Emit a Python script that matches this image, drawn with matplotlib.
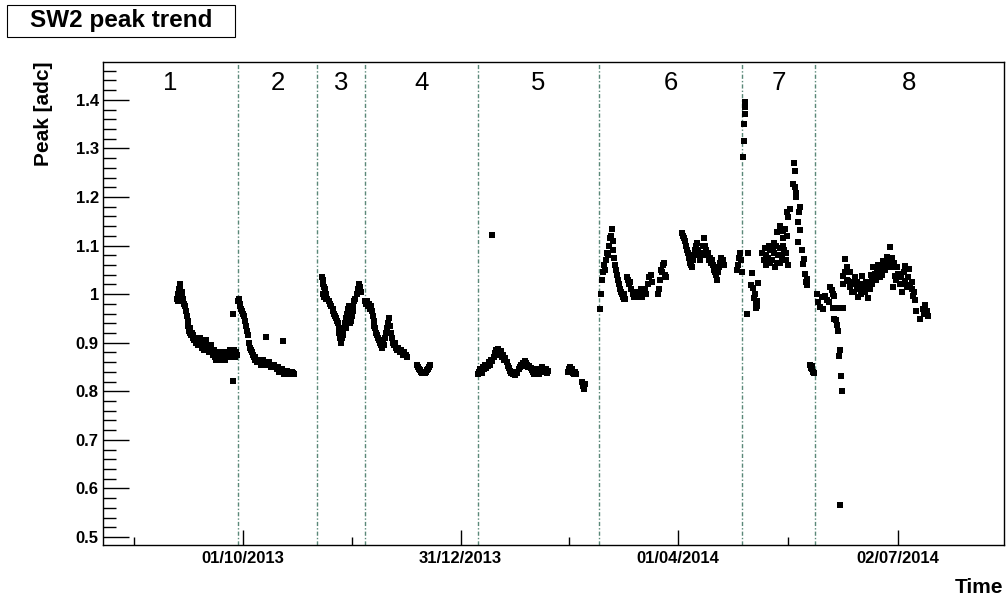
import datetime as dt
import matplotlib
matplotlib.use('Agg')
import matplotlib.pyplot as plt
import matplotlib.dates as mdates
from matplotlib.ticker import MultipleLocator, FixedLocator, FixedFormatter, FuncFormatter
from matplotlib.patches import Rectangle

plt.rcParams['font.family'] = ['Liberation Sans', 'DejaVu Sans']

# (days since 01/10/2013, peak [adc]), one list per period
seg1 = [(-27.6, 0.99), (-27.4, 1.0), (-27.2, 0.985), (-27.0, 1.005), (-26.8, 0.995), (-26.6, 1.01),
        (-26.4, 1.015), (-26.2, 1.02), (-26.0, 1.0), (-25.8, 0.99), (-25.6, 1.005), (-25.4, 0.995),
        (-25.2, 0.99), (-25.0, 0.985), (-24.6, 0.98), (-24.2, 0.975), (-23.8, 0.965), (-23.5, 0.955),
        (-23.2, 0.945), (-22.9, 0.935), (-22.6, 0.925), (-22.3, 0.92), (-22.0, 0.93), (-21.7, 0.915),
        (-21.4, 0.92), (-21.1, 0.91), (-20.8, 0.915), (-20.5, 0.905), (-20.2, 0.91), (-19.8, 0.9),
        (-19.4, 0.905), (-19.0, 0.895), (-18.6, 0.9), (-18.2, 0.91), (-17.8, 0.895), (-17.4, 0.905),
        (-17.0, 0.89), (-16.6, 0.9), (-16.2, 0.885), (-15.8, 0.895), (-15.4, 0.905), (-15.0, 0.89),
        (-14.6, 0.895), (-14.2, 0.88), (-13.8, 0.885), (-13.4, 0.895), (-13.0, 0.88), (-12.6, 0.875),
        (-12.2, 0.885), (-11.8, 0.87), (-11.4, 0.865), (-11.0, 0.875), (-10.6, 0.865), (-10.2, 0.87),
        (-9.8, 0.88), (-9.4, 0.87), (-9.0, 0.865), (-8.6, 0.875), (-8.2, 0.87), (-7.8, 0.88),
        (-7.4, 0.865), (-7.0, 0.875), (-6.6, 0.87), (-6.2, 0.88), (-5.8, 0.875), (-5.4, 0.885),
        (-5.0, 0.87), (-4.6, 0.88), (-4.2, 0.875), (-3.8, 0.885), (-3.4, 0.87), (-3.0, 0.88),
        (-2.6, 0.875), (-4.2, 0.96), (-4.2, 0.822)]
seg2 = [(-2.0, 0.985), (-1.7, 0.99), (-1.4, 0.98), (-1.1, 0.975), (-0.8, 0.97), (-0.4, 0.965),
        (0.0, 0.96), (0.4, 0.955), (0.8, 0.945), (1.2, 0.935), (1.6, 0.925), (2.0, 0.915),
        (2.4, 0.9), (2.8, 0.89), (3.2, 0.885), (3.6, 0.88), (4.0, 0.875), (4.4, 0.87),
        (4.8, 0.865), (5.2, 0.87), (5.6, 0.865), (6.0, 0.86), (6.5, 0.865), (7.0, 0.86),
        (7.5, 0.855), (8.0, 0.86), (8.5, 0.865), (9.0, 0.86), (9.5, 0.855), (10.0, 0.86),
        (10.5, 0.855), (11.0, 0.86), (11.5, 0.85), (12.0, 0.855), (12.5, 0.85), (13.0, 0.855),
        (13.5, 0.85), (14.0, 0.845), (14.5, 0.85), (15.0, 0.84), (15.5, 0.845), (16.0, 0.84),
        (16.5, 0.845), (17.0, 0.835), (17.5, 0.84), (18.0, 0.838), (18.5, 0.842), (19.0, 0.836),
        (19.5, 0.84), (20.0, 0.838), (20.5, 0.84), (21.0, 0.838), (21.5, 0.836), (9.6, 0.911),
        (16.7, 0.903)]
seg3 = [(33.0, 1.035), (33.3, 1.03), (33.6, 1.02), (34.0, 1.015), (34.4, 1.01), (34.8, 1.0),
        (33.5, 1.0), (34.0, 0.995), (34.6, 0.99), (35.2, 0.99), (35.8, 0.985), (36.4, 0.98),
        (37.0, 0.975), (37.5, 0.97), (37.8, 0.965), (38.2, 0.96), (38.6, 0.955), (39.0, 0.95),
        (39.4, 0.945), (39.8, 0.94), (40.1, 0.93), (40.3, 0.92), (40.5, 0.91), (40.8, 0.905),
        (41.1, 0.9), (41.5, 0.91), (41.8, 0.92), (42.2, 0.93), (42.6, 0.94), (43.0, 0.95),
        (43.4, 0.96), (43.8, 0.97), (44.2, 0.975), (44.6, 0.94), (45.0, 0.945), (45.4, 0.955),
        (45.8, 0.965), (46.2, 0.975), (46.6, 0.985), (47.0, 0.99), (47.6, 1.0), (48.0, 1.01),
        (48.4, 1.02), (48.8, 1.015), (49.2, 1.005), (42.0, 0.915), (43.2, 0.93), (44.0, 0.955)]
seg4 = [(51.0, 0.985), (51.4, 0.98), (51.8, 0.985), (52.2, 0.975), (52.6, 0.98), (53.0, 0.97),
        (53.4, 0.975), (53.8, 0.965), (54.2, 0.955), (54.6, 0.945), (55.0, 0.935), (55.4, 0.93),
        (55.8, 0.92), (56.2, 0.915), (56.6, 0.91), (57.0, 0.905), (57.4, 0.9), (57.8, 0.895),
        (58.2, 0.89), (58.6, 0.9), (59.0, 0.895), (59.4, 0.91), (59.8, 0.92), (60.2, 0.93),
        (60.6, 0.94), (61.0, 0.95), (61.4, 0.935), (61.8, 0.92), (62.2, 0.91), (62.6, 0.9),
        (63.0, 0.895), (63.5, 0.9), (64.0, 0.89), (64.5, 0.885), (65.0, 0.89), (65.5, 0.88),
        (66.0, 0.885), (66.5, 0.88), (67.0, 0.875), (67.5, 0.88), (68.0, 0.875), (68.5, 0.87),
        (72.8, 0.855), (73.2, 0.85), (73.6, 0.845), (74.0, 0.843), (74.5, 0.84), (75.0, 0.838),
        (75.5, 0.84), (76.0, 0.838), (76.5, 0.84), (77.0, 0.843), (77.5, 0.845), (78.0, 0.85),
        (78.3, 0.855)]
seg5 = [(104.2, 1.121),
        (98.4, 0.835), (98.8, 0.84), (99.3, 0.845), (99.8, 0.838), (100.3, 0.85), (100.8, 0.845),
        (101.3, 0.855), (101.8, 0.848), (102.3, 0.852), (102.8, 0.86), (103.3, 0.855), (103.8, 0.865),
        (104.3, 0.862), (104.8, 0.87), (105.3, 0.878), (105.8, 0.885), (106.3, 0.88), (106.8, 0.888),
        (107.3, 0.875), (107.8, 0.882), (108.3, 0.87), (108.8, 0.875), (109.3, 0.865), (109.8, 0.868),
        (110.3, 0.86), (110.8, 0.852), (111.3, 0.848), (111.8, 0.842), (112.3, 0.838), (112.8, 0.835),
        (113.3, 0.838), (113.8, 0.833), (114.3, 0.84), (114.8, 0.838), (115.3, 0.845), (115.8, 0.85),
        (116.3, 0.855), (116.8, 0.852), (117.3, 0.858), (117.8, 0.862), (118.3, 0.858), (118.8, 0.855),
        (119.3, 0.85), (119.8, 0.853), (120.3, 0.847), (120.8, 0.843), (121.3, 0.84), (121.8, 0.835),
        (122.3, 0.842), (122.8, 0.845), (123.3, 0.838), (123.8, 0.835), (124.3, 0.84), (124.8, 0.845),
        (125.3, 0.85), (125.8, 0.843), (126.3, 0.84), (126.8, 0.845), (127.3, 0.838), (127.8, 0.842),
        (135.8, 0.84), (136.2, 0.845), (136.6, 0.85), (137.0, 0.843), (137.4, 0.84), (137.8, 0.845),
        (138.2, 0.838), (138.6, 0.835), (139.0, 0.84), (139.4, 0.835), (141.9, 0.82), (142.3, 0.81),
        (142.7, 0.805), (143.0, 0.815)]
seg6 = [(149.5, 0.97), (149.8, 1.0), (150.3, 1.03), (150.8, 1.045), (151.2, 1.06), (151.6, 1.05),
        (152.0, 1.07), (152.4, 1.085), (152.8, 1.08), (153.2, 1.1), (153.6, 1.115), (154.0, 1.12),
        (154.3, 1.135), (154.6, 1.11), (155.0, 1.09), (155.3, 1.075), (155.6, 1.06), (156.0, 1.05),
        (156.4, 1.04), (156.8, 1.03), (157.2, 1.02), (157.6, 1.01), (158.0, 1.005), (158.4, 1.0),
        (158.8, 0.995), (159.2, 0.99), (159.6, 1.0), (160.0, 0.99), (160.5, 1.035), (161.0, 1.03),
        (161.5, 1.02), (162.0, 1.025), (162.5, 1.01), (163.0, 1.0), (163.5, 0.995), (164.0, 1.005),
        (164.5, 1.0), (165.0, 0.995), (165.5, 1.005), (166.0, 1.0), (166.5, 1.01), (167.0, 0.995),
        (167.5, 1.005), (168.0, 1.01), (168.5, 1.0), (169.5, 1.02), (170.0, 1.035), (170.5, 1.04),
        (171.0, 1.025), (173.8, 1.0), (174.2, 1.01), (174.6, 1.03), (175.0, 1.05), (175.4, 1.045),
        (175.8, 1.06), (176.2, 1.065), (176.6, 1.04), (177.0, 1.035), (183.8, 1.125), (184.2, 1.12),
        (184.6, 1.115), (185.0, 1.11), (185.4, 1.1), (185.8, 1.09), (186.2, 1.085), (186.6, 1.075),
        (187.0, 1.065), (187.4, 1.06), (187.8, 1.055), (188.2, 1.07), (188.6, 1.08), (189.0, 1.09),
        (189.4, 1.1), (189.8, 1.105), (190.2, 1.09), (190.6, 1.08), (191.0, 1.075), (191.4, 1.07),
        (191.8, 1.08), (192.2, 1.085), (192.6, 1.1), (193.0, 1.115), (193.4, 1.1), (193.8, 1.09),
        (194.2, 1.08), (194.6, 1.085), (195.0, 1.07), (195.4, 1.075), (195.8, 1.065), (196.2, 1.07),
        (196.6, 1.06), (197.0, 1.05), (197.4, 1.045), (197.8, 1.04), (198.2, 1.03), (198.6, 1.045),
        (199.0, 1.055), (199.4, 1.065), (199.8, 1.07), (200.2, 1.075), (200.6, 1.065), (201.0, 1.07),
        (201.4, 1.06), (206.8, 1.05), (207.2, 1.06), (207.6, 1.075), (208.0, 1.085), (208.4, 1.07),
        (208.7, 1.045)]
seg7 = [(209.4, 1.282), (209.6, 1.316), (209.8, 1.351), (209.9, 1.371), (210.2, 1.385), (209.9, 1.395),
        (210.9, 0.96), (211.3, 1.084), (212.9, 1.043), (212.6, 1.018), (213.4, 1.012), (215.5, 1.022),
        (213.8, 0.993), (214.6, 0.981), (214.6, 0.971), (214.2, 1.0), (214.9, 0.975), (215.2, 0.985),
        (217.2, 1.085), (218.4, 1.095), (219.7, 1.075), (220.5, 1.09), (221.3, 1.07), (222.2, 1.085),
        (223.0, 1.1), (223.8, 1.08), (224.7, 1.095), (225.5, 1.075), (226.4, 1.09), (227.2, 1.07),
        (228.1, 1.06), (218.8, 1.06), (220.5, 1.065), (222.6, 1.055), (224.7, 1.065), (217.8, 1.07),
        (219.0, 1.08), (220.0, 1.1), (221.8, 1.095), (223.4, 1.065), (225.0, 1.08), (226.0, 1.1),
        (227.0, 1.085), (227.8, 1.12), (225.8, 1.115), (222.0, 1.105),
        (223.3, 1.128), (224.7, 1.141), (226.8, 1.135), (227.5, 1.169), (228.1, 1.158), (228.9, 1.176),
        (226.0, 1.13), (230.7, 1.27), (231.0, 1.253), (230.3, 1.227), (231.3, 1.208), (230.8, 1.22),
        (231.5, 1.2), (233.1, 1.179), (232.6, 1.17), (232.3, 1.148), (233.1, 1.131), (232.3, 1.107),
        (234.0, 1.09), (234.9, 1.073), (234.2, 1.062), (235.1, 1.042), (235.9, 1.032), (235.4, 1.025),
        (235.9, 1.018), (237.3, 0.855), (237.7, 0.848), (238.1, 0.845), (238.5, 0.84), (238.1, 0.852),
        (238.9, 0.838)]
seg8 = [(240.0, 1.0), (240.7, 0.983), (241.4, 0.973), (242.1, 0.994), (242.8, 0.97), (243.5, 0.997),
        (244.2, 0.987), (245.3, 0.983), (245.6, 1.014), (246.3, 1.008), (247.0, 1.0), (247.4, 0.997),
        (247.0, 0.971), (249.1, 0.971), (250.9, 0.971), (247.4, 0.949), (248.1, 0.946), (248.7, 0.936),
        (248.8, 0.924), (249.8, 0.884), (249.5, 0.872), (250.2, 0.831), (250.5, 0.8), (249.8, 0.565),
        (251.9, 1.073), (252.6, 1.056), (251.2, 1.038), (251.2, 1.021), (253.3, 1.028), (254.0, 1.014),
        (254.7, 1.004), (256.1, 1.035), (256.8, 1.011), (257.5, 0.994), (258.9, 1.038), (259.6, 1.021),
        (260.3, 1.004), (261.6, 0.991), (262.3, 1.011), (263.1, 1.028), (263.7, 1.056), (264.4, 1.042),
        (265.8, 1.059), (266.5, 1.035), (267.9, 1.069), (268.6, 1.049), (269.6, 1.076), (270.7, 1.097),
        (271.0, 1.063), (272.1, 1.056), (272.8, 1.038), (272.1, 1.014), (274.2, 1.042), (274.9, 1.021),
        (275.6, 1.004), (277.0, 1.057), (277.0, 1.028), (277.7, 1.014), (278.8, 1.051), (279.1, 1.018),
        (279.8, 1.011), (280.5, 0.997), (281.2, 0.987), (281.6, 0.966), (283.3, 0.949), (284.4, 0.97),
        (285.4, 0.977), (286.1, 0.966), (286.7, 0.954), (285.0, 0.96),
        (252.0, 1.045), (252.9, 1.03), (253.8, 1.045), (254.5, 1.025), (255.3, 1.02), (255.8, 1.005),
        (257.0, 1.025), (257.9, 1.015), (258.4, 1.0), (259.2, 1.01), (260.8, 1.025), (261.2, 1.015),
        (262.8, 1.04), (263.3, 1.02), (264.9, 1.03), (265.3, 1.045), (266.0, 1.05), (267.2, 1.055),
        (267.5, 1.04), (268.2, 1.06), (269.0, 1.065), (270.0, 1.055), (270.4, 1.07), (271.5, 1.075),
        (272.5, 1.065), (273.3, 1.03), (273.8, 1.055), (275.2, 1.035), (276.2, 1.02), (276.5, 1.045),
        (278.2, 1.035), (280.0, 1.025), (280.9, 1.005)]
segments = [seg1, seg2, seg3, seg4, seg5, seg6, seg7, seg8]

# period boundaries (days since 01/10/2013) and their labels
boundaries = [-2.1, 31.1, 51.0, 98.2, 149.0, 208.9, 239.3]
period_names = ['1', '2', '3', '4', '5', '6', '7', '8']

tick_dates = [dt.datetime(2013, 10, 1), dt.datetime(2013, 12, 31),
              dt.datetime(2014, 4, 1), dt.datetime(2014, 7, 2)]
tick_labels = ['01/10/2013', '31/12/2013', '01/04/2014', '02/07/2014']

t0 = mdates.date2num(dt.datetime(2013, 10, 1))
x_min = t0 - 58.6
x_max = t0 + 318.4

fig = plt.figure(figsize=(10.08, 6.01), dpi=100)
ax = fig.add_axes([0.1022, 0.0932, 0.8938, 0.8037])

for seg in segments:
    days, peaks = zip(*seg)
    ax.plot([t0 + d for d in days], peaks, 's', color='black', ms=4.0, mew=0, zorder=3)

for b in boundaries:
    ax.axvline(t0 + b, color='#5a8878', lw=1.0, ls=(0, (3, 1.5, 1, 1.5)), zorder=2)

edges = [x_min] + [t0 + b for b in boundaries] + [x_max]
for i, name in enumerate(period_names):
    xc = 0.5 * (edges[i] + edges[i + 1])
    ax.text(xc, 0.956, name, transform=ax.get_xaxis_transform(), ha='center', va='center',
            fontsize=18.5)

ax.set_xlim(x_min, x_max)
ax.set_ylim(0.4835, 1.478)

major = [mdates.date2num(d) for d in tick_dates]
step = major[1] - major[0]
minor = [major[0] - step / 2] + [(major[i] + major[i + 1]) / 2 for i in range(len(major) - 1)]
ax.xaxis.set_major_locator(FixedLocator(major))
ax.xaxis.set_major_formatter(FixedFormatter(tick_labels))
ax.xaxis.set_minor_locator(FixedLocator(minor))
ax.yaxis.set_major_locator(MultipleLocator(0.1))
ax.yaxis.set_minor_locator(MultipleLocator(0.02))
ax.yaxis.set_major_formatter(FuncFormatter(lambda v, p: '%g' % round(v, 2)))

ax.tick_params(axis='x', which='major', direction='in', length=11, width=1, pad=4,
               labelsize=12, top=False)
ax.tick_params(axis='x', which='minor', direction='in', length=5.5, width=1, top=False)
ax.tick_params(axis='y', which='major', direction='in', length=19, width=1, pad=3,
               labelsize=12, right=False)
ax.tick_params(axis='y', which='minor', direction='in', length=9.5, width=1, right=False)
for lab in ax.get_xticklabels() + ax.get_yticklabels():
    lab.set_fontweight('bold')
for sp in ax.spines.values():
    sp.set_linewidth(1.0)

fig.text(0.043, 0.897, 'Peak [adc]', rotation=90, ha='center', va='top',
         fontsize=15, fontweight='bold')
fig.text(0.995, 0.023, 'Time', ha='right', va='center', fontsize=15, fontweight='bold')

fig.patches.append(Rectangle((7 / 1008, 1 - 37 / 601), 228 / 1008, 32 / 601,
                             transform=fig.transFigure, facecolor='white',
                             edgecolor='black', lw=0.8))
fig.text(121 / 1008, 1 - 21 / 601, 'SW2 peak trend', ha='center', va='center',
         fontsize=17.5, fontweight='bold')

plt.savefig('out.png', dpi=100)
